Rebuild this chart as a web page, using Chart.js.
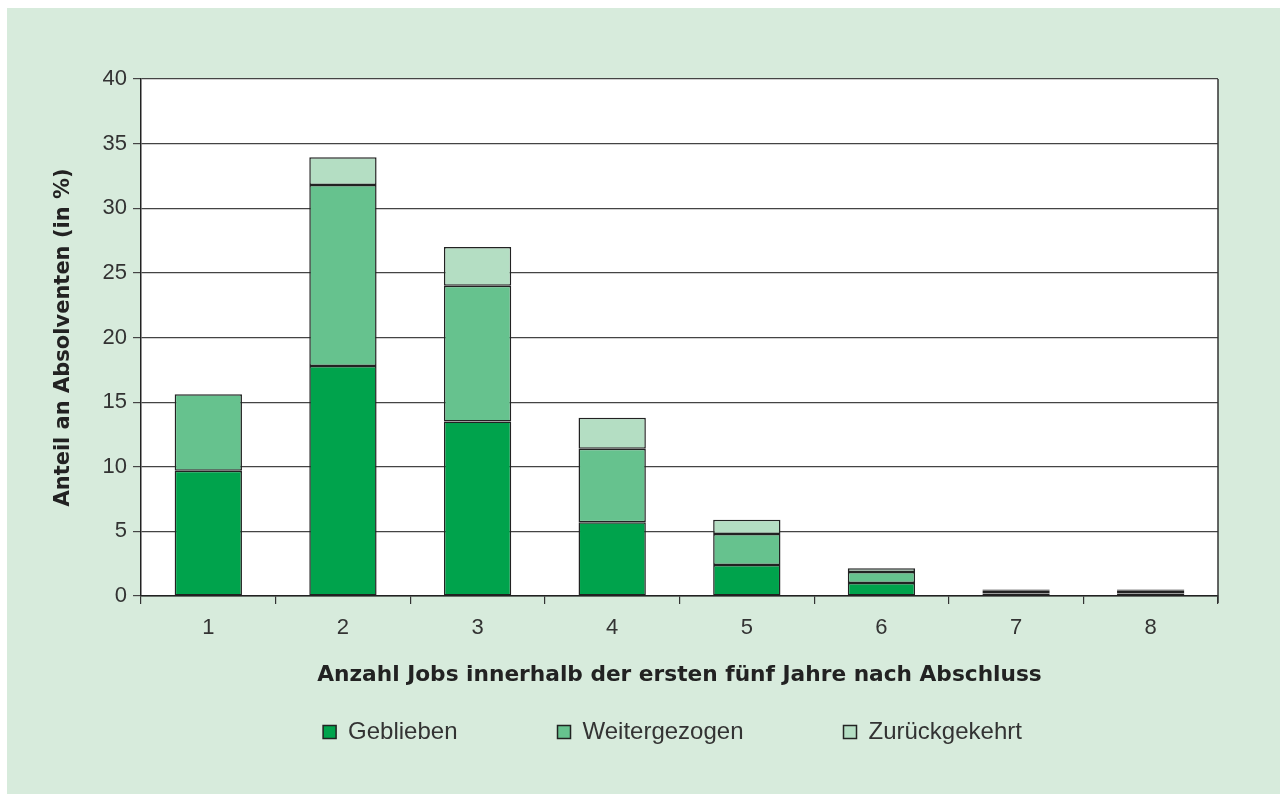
<!DOCTYPE html>
<html><head><meta charset="utf-8">
<script src="https://cdn.jsdelivr.net/npm/chart.js@4.4.1/dist/chart.umd.min.js"></script>
<style>
html,body{margin:0;padding:0;background:#fff;overflow:hidden;}
#panel{position:absolute;left:7px;top:8px;width:1273px;height:786px;background:#d7ebdc;}
canvas{display:block}
</style></head><body>
<div id="panel"><canvas id="c" width="1273" height="786"></canvas></div>
<script>
const categories = ['1','2','3','4','5','6','7','8'];
const geblieben = [9.7, 17.8, 13.5, 5.7, 2.4, 1.0, 0.2, 0.2];
const weitergezogen = [5.9, 14.0, 10.5, 5.7, 2.4, 0.85, 0.2, 0.2];
const zurueckgekehrt = [0, 2.15, 3.0, 2.4, 1.1, 0.3, 0.1, 0.1];
const seriesNames = ['Geblieben', 'Weitergezogen', 'Zurückgekehrt'];
const seriesColors = ['#00a34c', '#66c28e', '#b4dec3'];
const yTickValues = [0, 5, 10, 15, 20, 25, 30, 35, 40];
const xTitle = 'Anzahl Jobs innerhalb der ersten fünf Jahre nach Abschluss';
const yTitle = 'Anteil an Absolventen (in %)';

const FONT = "'Liberation Sans', Arial, sans-serif";
const BOLD = "'DejaVu Sans', 'Liberation Sans', sans-serif";

const plotFrame = {
  id: 'plotFrame',
  afterLayout(chart) {
    const lg = chart.legend;
    if (lg) {
      const pad = lg.options.labels.padding;
      const top = 724 - 12 - pad;
      lg.top = top;
      lg.bottom = top + pad + 60;
      lg.height = lg.bottom - lg.top;
      lg.left += 40; lg.right += 40;
    }
  },
  beforeDraw(chart) {
    const {ctx, chartArea: a} = chart;
    ctx.save();
    ctx.fillStyle = '#ffffff';
    ctx.fillRect(a.left, a.top, a.right - a.left, a.bottom - a.top);
    ctx.restore();
  },
  afterDatasetsDraw(chart) {
    const {ctx, chartArea: a} = chart;
    ctx.save();
    ctx.strokeStyle = '#333';
    ctx.lineWidth = 1.5;
    ctx.beginPath();
    ctx.moveTo(a.right, a.top);
    ctx.lineTo(a.right, a.bottom + 7);
    ctx.stroke();
    ctx.restore();
  }
};

const datasets = [geblieben, weitergezogen, zurueckgekehrt].map((d, i) => ({
  label: seriesNames[i],
  data: d,
  backgroundColor: seriesColors[i],
  borderColor: '#222',
  borderWidth: 1.5,
  borderSkipped: false,
  categoryPercentage: 0.5,
  barPercentage: 1.0
}));

new Chart(document.getElementById('c'), {
  type: 'bar',
  data: { labels: categories, datasets },
  plugins: [plotFrame],
  options: {
    responsive: false,
    animation: false,
    layout: { padding: { left: 40, top: 71, right: 62, bottom: 45.4 } },
    plugins: {
      tooltip: { enabled: false },
      legend: {
        position: 'bottom',
        maxHeight: 60,
        labels: {
          font: { family: FONT, size: 24 },
          color: '#333',
          boxWidth: 13,
          boxHeight: 13,
          padding: 100
        }
      }
    },
    scales: {
      x: {
        stacked: true,
        afterFit(s) { s.height = 92.6; },
        grid: { display: true, drawOnChartArea: false, drawTicks: true, tickLength: 8, color: '#333', lineWidth: 1.2, offset: true },
        border: { color: '#222', width: 1.5 },
        ticks: { font: { family: FONT, size: 22 }, color: '#333', padding: 11 },
        title: {
          display: true, text: xTitle, color: '#222',
          font: { family: BOLD, size: 21.7, weight: 'bold' },
          padding: { top: 22, bottom: 0 }
        }
      },
      y: {
        stacked: true,
        min: 0, max: 40,
        afterFit(s) { s.width = 94; },
        afterBuildTicks(s) { s.ticks = yTickValues.map(v => ({ value: v })); },
        grid: { color: '#444', lineWidth: 1.2, tickLength: 8, drawTicks: true },
        border: { color: '#222', width: 1.5 },
        ticks: { font: { family: FONT, size: 22 }, color: '#333', padding: 6 },
        title: {
          display: true, text: yTitle, color: '#222',
          font: { family: BOLD, size: 21, weight: 'bold' },
          padding: { top: 4, bottom: 0 }
        }
      }
    }
  }
});
</script>
</body></html>
